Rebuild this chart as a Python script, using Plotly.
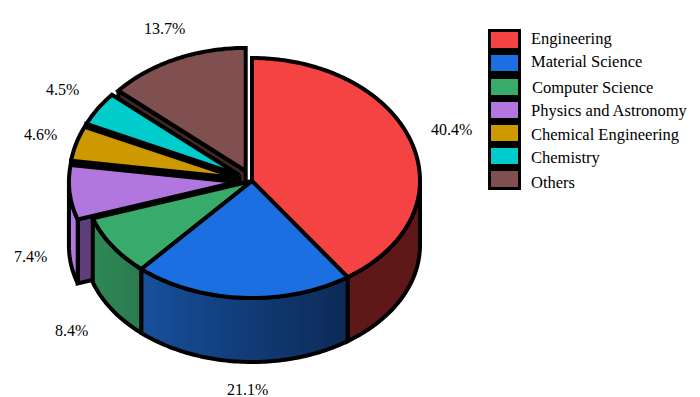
import math
import plotly.graph_objects as go

categories = ["Engineering", "Material Science", "Computer Science", "Physics and Astronomy",
              "Chemical Engineering", "Chemistry", "Others"]
values = [40.4, 21.1, 8.4, 7.4, 4.6, 4.5, 13.7]
pulled = [0, 0, 0, 1, 1, 1, 1]
top_colors = ["#f54344", "#1b6fe0", "#38ab6b", "#b277df", "#cc9900", "#00cccc", "#805050"]
wall_left = ["#5f1818", "#17509c", "#2f8a57", "#b277df", "#8a6800", "#008a8a", "#3f2725"]
wall_right = ["#5f1818", "#0c2a55", "#2a7a50", "#b277df", "#8a6800", "#008a8a", "#3f2725"]
cut_colors = ["#3a0f0f", "#0c2a55", "#1e5a3a", "#5f3d7a", "#111111", "#0a0a0a", "#3f2725"]
label_x = [451, 247, 71, 30, 40, 62, 164]
label_y = [129, 389, 330, 256, 134, 89, 28]
legend_x = [529, 529, 530, 529, 529, 529, 529]
legend_y = [38, 61, 87, 110, 134, 157, 182]
swatch_y = [32, 55, 79, 102, 125, 148, 171]

CX, CY, RX, RY_BACK, RY_FRONT, DEPTH, PULL, LW = 252, 181, 168, 123, 117, 64, 0.09, 4


def mix(c1, c2, t):
    a = [int(c1[i:i + 2], 16) for i in (1, 3, 5)]
    b = [int(c2[i:i + 2], 16) for i in (1, 3, 5)]
    return "rgb(%d,%d,%d)" % tuple(round(a[i] + (b[i] - a[i]) * t) for i in range(3))


def pt(deg, cx, cy, dz=0):
    r = math.radians(deg)
    c = math.cos(r)
    return cx + RX * math.sin(r), cy - (RY_BACK if c > 0 else RY_FRONT) * c + dz


def arc(a, b, cx, cy, dz=0, step=1.0):
    n = max(2, int(abs(b - a) / step) + 1)
    return [pt(a + (b - a) * i / (n - 1), cx, cy, dz) for i in range(n)]


fig = go.Figure()


def poly(points, fill=None, line=False, seam=None):
    xs = [p[0] for p in points]
    ys = [p[1] for p in points]
    fig.add_trace(go.Scatter(
        x=xs, y=ys, mode="lines", hoverinfo="skip", showlegend=False,
        fill="toself" if fill else "none", fillcolor=fill,
        line=dict(color="#000000" if line else (fill or "#000000"),
                  width=LW if line else (seam or 0.6), simplify=False),
    ))


total = sum(values)
spans = []
start = 0.0
for v in values:
    end = start + v / total * 360
    spans.append((start, end))
    start = end

# back-to-front painting order
order = [6, 5, 4, 3, 0, 2, 1]
for i in order:
    a, b = spans[i]
    mid = math.radians((a + b) / 2)
    p = PULL * pulled[i]
    cx = CX + RX * p * math.sin(mid)
    cy = CY - RY_BACK * p * math.cos(mid)
    apex = (cx, cy)
    bottom_apex = (cx, cy + DEPTH)
    if pulled[i]:
        s = pt(a, cx, cy)
        face = [apex, s, (s[0], s[1] + DEPTH), bottom_apex, apex]
        poly(face, cut_colors[i])
        poly(face, None, True)
    lo, hi = max(a, 90), min(b, 270)
    if lo < hi:
        n = max(1, int((hi - lo) / 3))
        for k in range(n):
            t0 = lo + (hi - lo) * k / n
            # each strip overlaps the next so no seams show through
            t1 = min(hi, lo + (hi - lo) * (k + 1) / n + 1.5)
            top = arc(t0, t1, cx, cy)
            bot = arc(t1, t0, cx, cy, DEPTH)
            poly(top + bot + [top[0]], mix(wall_right[i], wall_left[i], (k + 0.5) / n), seam=1.5)
        top = arc(lo, hi, cx, cy)
        bot = arc(hi, lo, cx, cy, DEPTH)
        poly(top + bot + [top[0]], None, True)
    outline = [apex] + arc(a, b, cx, cy) + [apex]
    poly(outline, top_colors[i])
    poly(outline, None, True)

shapes = [dict(type="rect", xref="x", yref="y", x0=488, x1=521, y0=29, y1=190,
               fillcolor="#000000", line=dict(width=0), layer="above")]
annotations = []
for i, name in enumerate(categories):
    shapes.append(dict(type="rect", xref="x", yref="y", x0=491, x1=518,
                       y0=swatch_y[i], y1=swatch_y[i] + 16, fillcolor=top_colors[i],
                       line=dict(width=0), layer="above"))
    annotations.append(dict(x=legend_x[i], y=legend_y[i], xref="x", yref="y", text=name,
                            showarrow=False, xanchor="left", yanchor="middle",
                            font=dict(size=16.5)))
    annotations.append(dict(x=label_x[i], y=label_y[i], xref="x", yref="y",
                            text=f"{values[i]}%", showarrow=False,
                            xanchor="center", yanchor="middle"))

fig.update_layout(
    width=700, height=397, margin=dict(l=0, r=0, t=0, b=0),
    paper_bgcolor="#ffffff", plot_bgcolor="#ffffff", showlegend=False,
    font=dict(family="Liberation Serif", size=16, color="#000000"),
    xaxis=dict(range=[0, 700], visible=False, fixedrange=True),
    yaxis=dict(range=[397, 0], visible=False, fixedrange=True),
    shapes=shapes, annotations=annotations,
)
fig.write_html("out.html", config=dict(displayModeBar=False),
               post_script="document.body.style.margin='0';document.documentElement.style.overflow='hidden';")
